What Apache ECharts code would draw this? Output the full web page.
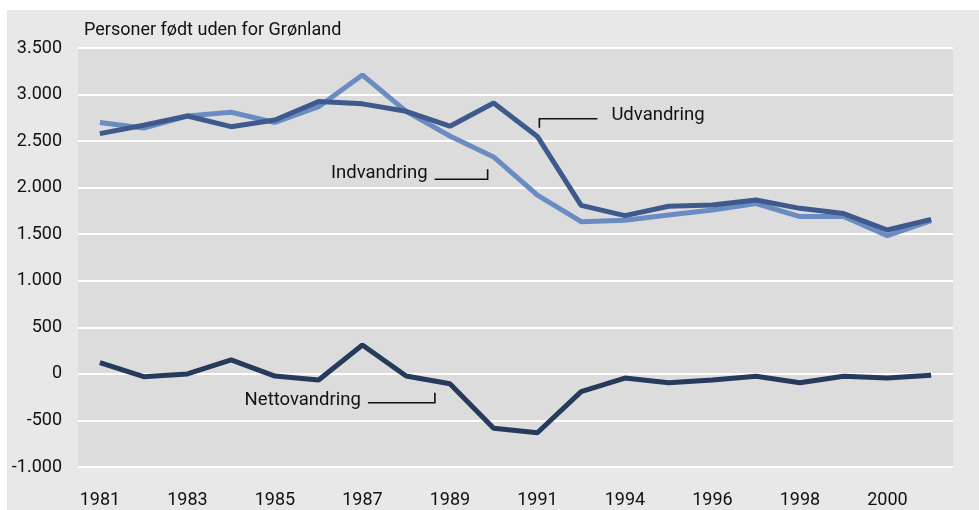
<!DOCTYPE html>
<html>
<head>
<meta charset="utf-8">
<script src="https://cdn.jsdelivr.net/npm/echarts@6/dist/echarts.min.js"></script>
<style>
  html, body { margin: 0; padding: 0; background: #ffffff; }
  #chart { width: 979px; height: 510px; }
</style>
</head>
<body>
<div id="chart"></div>
<script>
// Data
const years = ['1981', '1982', '1983', '1984', '1985', '1986', '1987', '1988', '1989', '1990',
    '1991', '1993', '1994', '1995', '1996', '1997', '1998', '1999', '2000', '2001'];
const indvandring = [2700, 2640, 2770, 2810, 2700, 2870, 3210, 2820, 2555, 2330,
    1920, 1635, 1650, 1706, 1760, 1830, 1690, 1690, 1485, 1645];
const udvandring = [2580, 2670, 2770, 2655, 2727, 2925, 2900, 2820, 2660, 2910,
    2550, 1810, 1700, 1800, 1815, 1868, 1778, 1722, 1545, 1660];
const nettovandring = [120, -30, 0, 150, -23, -66, 310, -23, -105, -585,
    -632, -190, -45, -95, -66, -25, -95, -25, -45, -15];
// Year labels shown on the axis
const shownYears = ['1981', '1983', '1985', '1987', '1989', '1991', '1994', '1996', '1998', '2000'];

const FONT = 'Roboto';
const TXT = '#111111';
const chart = echarts.init(document.getElementById('chart'));

const option = {
    animation: false,
    backgroundColor: '#ffffff',
    grid: {
        left: 78, right: 26, top: 48, bottom: 43,
        show: true, backgroundColor: '#dcdcdc', borderWidth: 0
    },
    title: {
        text: 'Personer født uden for Grønland',
        left: 79, top: 16,
        textStyle: { fontFamily: FONT, fontSize: 18, fontWeight: 'normal', color: TXT }
    },
    xAxis: {
        type: 'category',
        data: years,
        boundaryGap: true,
        axisLine: { show: false },
        axisTick: { show: false },
        splitLine: { show: false },
        axisLabel: {
            interval: 0,
            margin: 24,
            fontFamily: FONT, fontSize: 18, color: TXT,
            formatter: v => shownYears.includes(v) ? v : ''
        }
    },
    yAxis: {
        type: 'value',
        min: -1000, max: 3500, interval: 500,
        axisLine: { show: false },
        axisTick: { show: false },
        splitLine: { lineStyle: { color: '#ffffff', width: 2 } },
        axisLabel: {
            margin: 16,
            fontFamily: FONT, fontSize: 18, color: TXT,
            formatter: v => {
                const s = Math.abs(v).toString().replace(/\B(?=(\d{3})+(?!\d))/g, '.');
                return (v < 0 ? '-' : '') + s;
            }
        }
    },
    series: [
        {
            name: 'Indvandring', type: 'line', data: indvandring,
            symbol: 'none', lineStyle: { color: '#6a8cc2', width: 5 }, z: 3
        },
        {
            name: 'Udvandring', type: 'line', data: udvandring,
            symbol: 'none', lineStyle: { color: '#3e5a8c', width: 5 }, z: 4
        },
        {
            name: 'Nettovandring', type: 'line', data: nettovandring,
            symbol: 'none', lineStyle: { color: '#263a5c', width: 5 }, z: 4
        }
    ]
};
chart.setOption(option);

// Annotations: label + bracket leader, anchored in data coordinates
function leader(anchor, text, side, dx, len, dy) {
    const p = chart.convertToPixel({ gridIndex: 0 }, anchor);
    const x = p[0] + dx, y = p[1];
    const line = { stroke: TXT, lineWidth: 1.6, fill: null };
    const font = { fontFamily: FONT, fontSize: 18.5, fill: TXT, verticalAlign: 'middle' };
    if (side === 'right') {
        // tick goes down from the horizontal, text to the right
        return [
            { type: 'polyline', silent: true, z: 10,
              shape: { points: [[x, y + 9], [x, y], [x + len, y]] }, style: line },
            { type: 'text', z: 10, x: x + len + 14, y: y + dy,
              style: Object.assign({ text: text, align: 'left' }, font) }
        ];
    }
    // tick goes up from the horizontal, text to the left
    return [
        { type: 'polyline', silent: true, z: 10,
          shape: { points: [[x, y - 10], [x, y], [x - len, y]] }, style: line },
        { type: 'text', z: 10, x: x - len - 7, y: y + dy,
          style: Object.assign({ text: text, align: 'right' }, font) }
    ];
}

const graphics = [
    {
        type: 'rect', z: -10, silent: true,
        shape: { x: 7, y: 10, width: 972, height: 500 },
        style: { fill: '#e8e8e8' }
    }
].concat(
    leader(['1991', 2740], 'Udvandring', 'right', 2, 58, -3),
    leader(['1990', 2090], 'Indvandring', 'left', -6, 53, -6),
    leader(['1989', -310], 'Nettovandring', 'left', -15, 67, -2)
);
chart.setOption({ graphic: graphics });
</script>
</body>
</html>
